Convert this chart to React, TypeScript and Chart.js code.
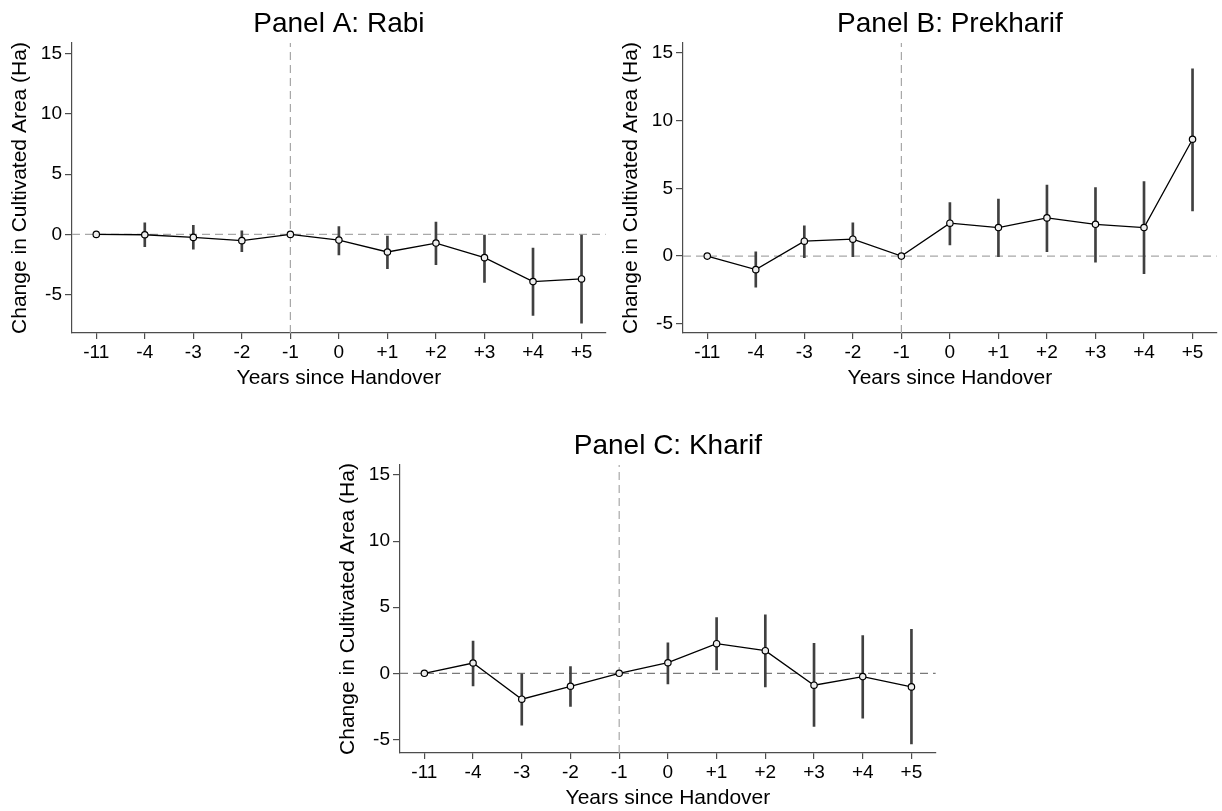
import { useEffect, useRef } from "react";
import { Chart, registerables } from "chart.js";

Chart.register(...registerables);

// Event-time categories (years relative to handover)
const periods = ["-11", "-4", "-3", "-2", "-1", "0", "+1", "+2", "+3", "+4", "+5"];
const yTickValues = [-5, 0, 5, 10, 15];
const handoverPosition = 5; // x position of "-1", the omitted year

// Panel A: Rabi
const rabiEstimate = [0, -0.03, -0.25, -0.52, 0, -0.47, -1.46, -0.72, -1.93, -3.92, -3.7];
const rabiLower = [null, -1.02, -1.22, -1.44, null, -1.71, -2.85, -2.51, -3.98, -6.74, -7.38];
const rabiUpper = [null, 0.97, 0.75, 0.3, null, 0.66, -0.14, 1.02, 0.0, -1.13, 0.0];

// Panel B: Prekharif
const prekharifEstimate = [0, -1.0, 1.1, 1.25, 0, 2.43, 2.11, 2.82, 2.35, 2.11, 8.63];
const prekharifLower = [null, -2.3, -0.12, -0.05, null, 0.83, -0.05, 0.32, -0.44, -1.3, 3.34];
const prekharifUpper = [null, 0.32, 2.23, 2.45, null, 3.95, 4.22, 5.25, 5.07, 5.51, 13.84];

// Panel C: Kharif
const kharifEstimate = [0, 0.78, -1.96, -0.98, 0, 0.8, 2.24, 1.71, -0.9, -0.25, -1.03];
const kharifLower = [null, -0.95, -3.92, -2.51, null, -0.8, 0.25, -1.03, -4.02, -3.39, -5.35];
const kharifUpper = [null, 2.44, 0.0, 0.5, null, 2.31, 4.22, 4.42, 2.26, 2.86, 3.32];

const FONT = '"Liberation Sans", Arial, Helvetica, sans-serif';
const AXIS_COLOR = "#4d4d4d";
const CI_COLOR = "#404040";
const REF_COLOR = "#a8a8a8";
const X_TITLE_GAP = 45; // axis line to x-title centre
const Y_AXIS_WIDTH = 72;

type Frame = {
  box: { left: number; top: number; width: number; height: number };
  area: { left: number; top: number; right: number; bottom: number };
};

type PanelSpec = {
  title: string;
  estimate: number[];
  lower: (number | null)[];
  upper: (number | null)[];
  yMin: number;
  yMax: number;
  zeroColor: string;
  frame: Frame;
};

const panels: PanelSpec[] = [
  {
    title: "Panel A: Rabi",
    estimate: rabiEstimate,
    lower: rabiLower,
    upper: rabiUpper,
    yMin: -8.19,
    yMax: 15.9,
    zeroColor: REF_COLOR,
    frame: {
      box: { left: 0, top: 0, width: 611, height: 400 },
      area: { left: 72, top: 43, right: 606, bottom: 333 },
    },
  },
  {
    title: "Panel B: Prekharif",
    estimate: prekharifEstimate,
    lower: prekharifLower,
    upper: prekharifUpper,
    yMin: -5.68,
    yMax: 15.74,
    zeroColor: REF_COLOR,
    frame: {
      box: { left: 611, top: 0, width: 611, height: 400 },
      area: { left: 683, top: 43, right: 1217, bottom: 333 },
    },
  },
  {
    title: "Panel C: Kharif",
    estimate: kharifEstimate,
    lower: kharifLower,
    upper: kharifUpper,
    yMin: -6.03,
    yMax: 15.76,
    zeroColor: "#7a7a7a",
    frame: {
      box: { left: 328, top: 420, width: 613, height: 391 },
      area: { left: 400, top: 465, right: 936, bottom: 753 },
    },
  },
];

// Panel heading centred over the plot region
const panelTitlePlugin = {
  id: "panelTitle",
  afterDraw(chart: any, _args: any, opts: any) {
    const { ctx, chartArea } = chart;
    ctx.save();
    ctx.font = `28px ${FONT}`;
    ctx.fillStyle = "#000";
    ctx.textAlign = "center";
    ctx.textBaseline = "alphabetic";
    ctx.fillText(opts.text, (chartArea.left + chartArea.right) / 2, chartArea.top - 11);
    ctx.restore();
  },
};

function buildConfig(p: PanelSpec): any {
  const { box, area } = p.frame;
  const xs = periods.map((_, i) => i + 1);
  const xHeight = box.top + box.height - area.bottom;
  const xTitleBottomPad = xHeight - X_TITLE_GAP - (21 * 1.2) / 2;

  const ciBars = xs
    .map((x, i) => (p.lower[i] == null || p.upper[i] == null ? null : { x, y: [p.lower[i], p.upper[i]] }))
    .filter((d) => d !== null);

  return {
    type: "line",
    data: {
      datasets: [
        {
          type: "line",
          data: [
            { x: 0.5, y: 0 },
            { x: periods.length + 0.5, y: 0 },
          ],
          borderColor: p.zeroColor,
          borderWidth: 1.2,
          borderDash: [8, 5],
          pointRadius: 0,
          order: 5,
        },
        {
          type: "line",
          data: [
            { x: handoverPosition, y: p.yMin },
            { x: handoverPosition, y: p.yMax },
          ],
          borderColor: REF_COLOR,
          borderWidth: 1.2,
          borderDash: [8, 5],
          pointRadius: 0,
          order: 4,
        },
        {
          type: "bar",
          data: ciBars,
          backgroundColor: CI_COLOR,
          borderWidth: 0,
          barThickness: 2,
          order: 3,
        },
        {
          type: "line",
          data: xs.map((x, i) => ({ x, y: p.estimate[i] })),
          borderColor: "#000",
          borderWidth: 1.3,
          pointRadius: 3.2,
          pointBorderWidth: 1.2,
          pointBorderColor: "#000",
          pointBackgroundColor: "#eeeeee",
          tension: 0,
          order: 1,
        },
      ],
    },
    options: {
      animation: false,
      responsive: false,
      devicePixelRatio: 1,
      events: [],
      layout: {
        padding: {
          left: area.left - box.left - Y_AXIS_WIDTH,
          top: area.top - box.top,
          right: box.left + box.width - area.right,
          bottom: 0,
        },
      },
      plugins: {
        legend: { display: false },
        tooltip: { enabled: false },
        title: { display: false },
        panelTitle: { text: p.title },
      },
      scales: {
        x: {
          type: "linear",
          min: 0.5,
          max: periods.length + 0.5,
          offset: false,
          afterBuildTicks: (scale: any) => {
            scale.ticks = xs.map((v) => ({ value: v }));
          },
          afterFit: (scale: any) => {
            scale.height = xHeight;
          },
          ticks: {
            autoSkip: false,
            includeBounds: false,
            maxRotation: 0,
            padding: 2,
            color: "#000",
            font: { size: 19, family: FONT },
            callback: (v: number) => periods[Math.round(v) - 1] ?? "",
          },
          grid: {
            display: true,
            offset: false,
            drawOnChartArea: false,
            drawTicks: true,
            tickLength: 6,
            color: AXIS_COLOR,
            lineWidth: 1.2,
          },
          border: { display: true, color: AXIS_COLOR, width: 1.2 },
          title: {
            display: true,
            text: "Years since Handover",
            color: "#000",
            font: { size: 21, family: FONT },
            padding: { top: 0, bottom: xTitleBottomPad },
          },
        },
        y: {
          type: "linear",
          min: p.yMin,
          max: p.yMax,
          afterBuildTicks: (scale: any) => {
            scale.ticks = yTickValues.map((v) => ({ value: v }));
          },
          afterFit: (scale: any) => {
            scale.width = Y_AXIS_WIDTH;
          },
          ticks: {
            includeBounds: false,
            padding: 3,
            color: "#000",
            font: { size: 19, family: FONT },
          },
          grid: {
            display: true,
            offset: false,
            drawOnChartArea: false,
            drawTicks: true,
            tickLength: 7,
            color: AXIS_COLOR,
            lineWidth: 1.2,
          },
          border: { display: true, color: AXIS_COLOR, width: 1.2 },
          title: {
            display: true,
            text: "Change in Cultivated Area (Ha)",
            color: "#000",
            font: { size: 21, family: FONT },
            padding: { top: 8, bottom: 0 },
          },
        },
      },
    },
    plugins: [panelTitlePlugin],
  };
}

function PanelChart({ spec }: { spec: PanelSpec }) {
  const ref = useRef<HTMLCanvasElement | null>(null);
  useEffect(() => {
    if (!ref.current) return;
    const chart = new Chart(ref.current, buildConfig(spec));
    return () => chart.destroy();
  }, [spec]);
  const { box } = spec.frame;
  return (
    <canvas
      ref={ref}
      width={box.width}
      height={box.height}
      style={{
        position: "absolute",
        left: box.left,
        top: box.top,
        width: box.width,
        height: box.height,
      }}
    />
  );
}

export default function App() {
  Chart.defaults.font.family = FONT;
  return (
    <div
      style={{
        position: "fixed",
        left: 0,
        top: 0,
        width: 1222,
        height: 811,
        background: "#fff",
        overflow: "hidden",
      }}
    >
      {panels.map((p) => (
        <PanelChart key={p.title} spec={p} />
      ))}
    </div>
  );
}
